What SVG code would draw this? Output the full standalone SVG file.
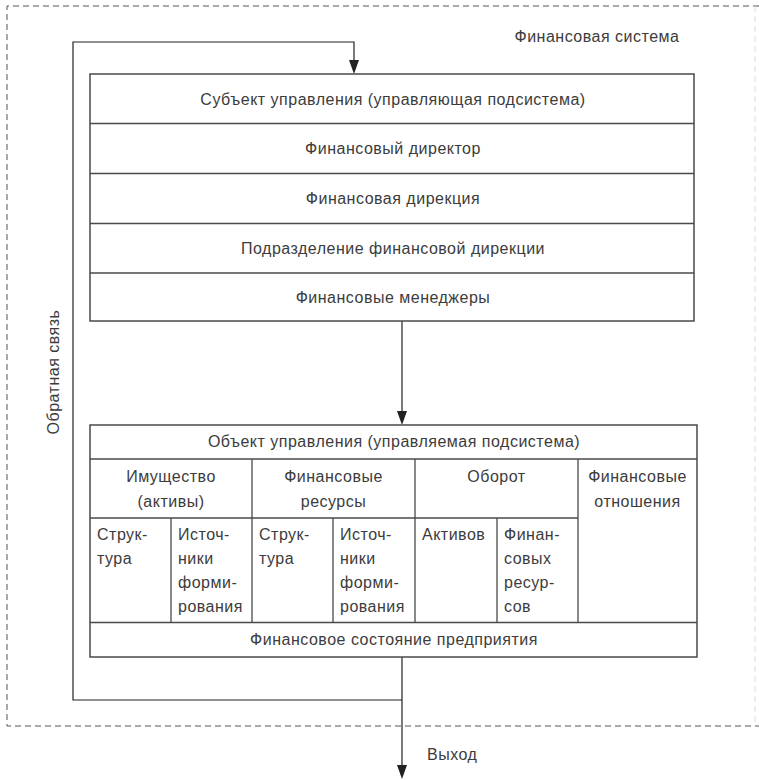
<svg xmlns="http://www.w3.org/2000/svg" width="759" height="780" viewBox="0 0 759 780">
<style>
text{font-family:"Liberation Sans",Arial,sans-serif;font-size:16px;fill:#3c3c3c;letter-spacing:0.5px}
.c{text-anchor:middle}
.box{fill:none;stroke:#4a4a4a;stroke-width:1.5}
.ln{fill:none;stroke:#4a4a4a;stroke-width:1.3}
.con{fill:none;stroke:#222;stroke-width:1.2}
.dash{fill:none;stroke:#555;stroke-width:1;stroke-dasharray:6 4}
.faint{fill:none;stroke:#ddd;stroke-width:1;stroke-dasharray:6 4}
</style>
<g id="system">
<path class="dash" d="M759,6 L7,6 L7,726 L759,726"/>
<line class="faint" x1="755" y1="6" x2="755" y2="726"/>
<text id="system-label" x="597" y="42" class="c">Финансовая система</text>
</g>

<g id="connectors">
<polyline class="con" points="402,700 73,700 73,42 354,42 354,60"/>
<path d="M349,60 L359,60 L354,74 Z" fill="#222"/>
<line class="con" x1="402" y1="321" x2="402" y2="411"/>
<path d="M397,411 L407,411 L402,425 Z" fill="#222"/>
<line class="con" x1="402" y1="657" x2="402" y2="765"/>
<path d="M397,765 L407,765 L402,779 Z" fill="#222"/>
<text id="feedback-label" transform="translate(59,372) rotate(-90)" class="c">Обратная связь</text>
<text id="output-label" x="427" y="760">Выход</text>
</g>

<g id="subject">
<rect class="box" x="90" y="74" width="604" height="247"/>
<line class="ln" x1="90" y1="123.5" x2="694" y2="123.5"/>
<line class="ln" x1="90" y1="173.5" x2="694" y2="173.5"/>
<line class="ln" x1="90" y1="223.5" x2="694" y2="223.5"/>
<line class="ln" x1="90" y1="273" x2="694" y2="273"/>
<text x="393" y="105" class="c">Субъект управления (управляющая подсистема)</text>
<text x="393" y="154" class="c">Финансовый директор</text>
<text x="393" y="204" class="c">Финансовая дирекция</text>
<text x="393" y="254" class="c">Подразделение финансовой дирекции</text>
<text x="393" y="303" class="c">Финансовые менеджеры</text>
</g>

<g id="object">
<rect class="box" x="90" y="425" width="607" height="232"/>
<line class="ln" x1="90" y1="459" x2="697" y2="459"/>
<line class="ln" x1="90" y1="518" x2="578" y2="518"/>
<line class="ln" x1="90" y1="622.5" x2="697" y2="622.5"/>
<line class="ln" x1="252" y1="459" x2="252" y2="622.5"/>
<line class="ln" x1="415" y1="459" x2="415" y2="622.5"/>
<line class="ln" x1="578" y1="459" x2="578" y2="622.5"/>
<line class="ln" x1="171" y1="518" x2="171" y2="622.5"/>
<line class="ln" x1="333" y1="518" x2="333" y2="622.5"/>
<line class="ln" x1="497" y1="518" x2="497" y2="622.5"/>
<text x="394" y="447" class="c">Объект управления (управляемая подсистема)</text>
<text x="171" y="482" class="c">Имущество</text>
<text x="171" y="507" class="c">(активы)</text>
<text x="333.5" y="482" class="c">Финансовые</text>
<text x="333.5" y="507" class="c">ресурсы</text>
<text x="496.5" y="482" class="c">Оборот</text>
<text x="637.5" y="482" class="c">Финансовые</text>
<text x="637.5" y="507" class="c">отношения</text>
<text x="97" y="540">Струк-</text>
<text x="97" y="564">тура</text>
<text x="178" y="540">Источ-</text>
<text x="178" y="564">ники</text>
<text x="178" y="588">форми-</text>
<text x="178" y="612">рования</text>
<text x="259" y="540">Струк-</text>
<text x="259" y="564">тура</text>
<text x="340" y="540">Источ-</text>
<text x="340" y="564">ники</text>
<text x="340" y="588">форми-</text>
<text x="340" y="612">рования</text>
<text x="422" y="540">Активов</text>
<text x="504" y="540">Финан-</text>
<text x="504" y="564">совых</text>
<text x="504" y="588">ресур-</text>
<text x="504" y="612">сов</text>
<text x="394" y="645" class="c">Финансовое состояние предприятия</text>
</g>
</svg>
